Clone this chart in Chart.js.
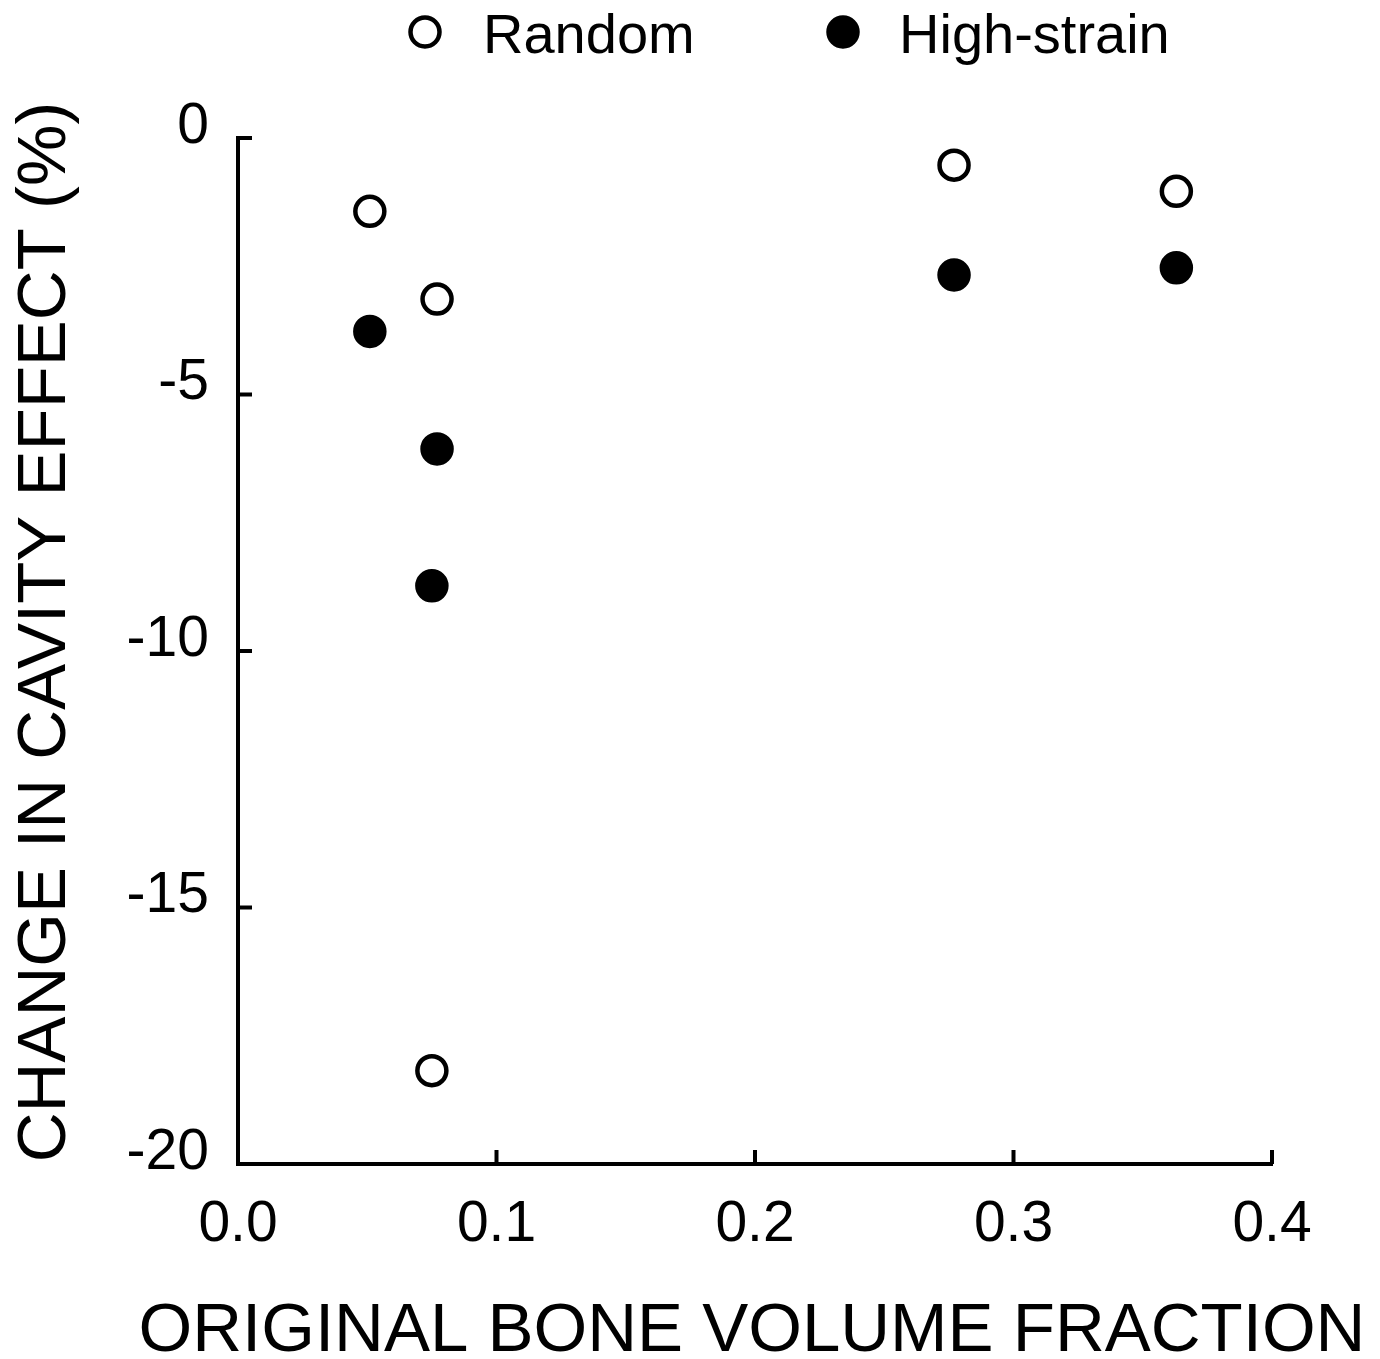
<!DOCTYPE html>
<html>
<head>
<meta charset="utf-8">
<script src="https://cdn.jsdelivr.net/npm/chart.js@4/dist/chart.umd.min.js"></script>
<style>
  html, body { margin: 0; padding: 0; background: #fff; }
  #wrap { width: 1380px; height: 1359px; }
</style>
</head>
<body>
<div id="wrap"><canvas id="cavity_chart" width="1380" height="1359"></canvas></div>
<script>
// values
const boneFraction = [0.051, 0.077, 0.075, 0.277, 0.363];
const randomChange = [-1.43, -3.14, -18.18, -0.53, -1.04];
const highStrainChange = [-3.77, -6.06, -8.73, -2.67, -2.53];
const seriesNames = ['Random', 'High-strain'];
const xTicks = [0, 0.1, 0.2, 0.3, 0.4];
const yTicks = [0, -5, -10, -15, -20];
const xTitle = 'ORIGINAL BONE VOLUME FRACTION';
const yTitle = 'CHANGE IN CAVITY EFFECT (%)';

const FONT = '"Liberation Sans", Arial, Helvetica, sans-serif';

function toPoints(xs, ys) {
  return xs.map((x, i) => ({ x: x, y: ys[i] }));
}

// inward tick marks on both axes
const innerTicks = {
  id: 'innerTicks',
  afterDatasetsDraw(chart) {
    const { ctx, scales: { x, y } } = chart;
    const len = 14;
    ctx.save();
    ctx.strokeStyle = '#000';
    ctx.lineWidth = 4;
    ctx.beginPath();
    xTicks.forEach(v => {
      const px = x.getPixelForValue(v);
      ctx.moveTo(px, y.bottom);
      ctx.lineTo(px, y.bottom - len);
    });
    yTicks.forEach(v => {
      const py = y.getPixelForValue(v);
      ctx.moveTo(x.left, py);
      ctx.lineTo(x.left + len, py);
    });
    ctx.stroke();
    ctx.restore();
  }
};

// legend row at the top and the two axis titles
const extras = {
  id: 'extras',
  afterDraw(chart) {
    const { ctx } = chart;
    ctx.save();
    // legend
    const marks = [{ cx: 425, tx: 483 }, { cx: 843, tx: 899 }];
    chart.data.datasets.forEach((ds, i) => {
      ctx.beginPath();
      ctx.arc(marks[i].cx, 32, ds.pointRadius, 0, Math.PI * 2);
      ctx.fillStyle = ds.backgroundColor;
      ctx.fill();
      ctx.lineWidth = ds.borderWidth;
      ctx.strokeStyle = ds.borderColor;
      ctx.stroke();
      ctx.fillStyle = '#000';
      ctx.font = '56px ' + FONT;
      ctx.textAlign = 'left';
      ctx.textBaseline = 'alphabetic';
      ctx.fillText(ds.label, marks[i].tx, 53);
    });
    ctx.fillStyle = '#000';
    ctx.font = '69px ' + FONT;
    ctx.textAlign = 'center';
    ctx.textBaseline = 'alphabetic';
    // x title
    ctx.fillText(xTitle, 752, 1351);
    // y title
    ctx.translate(65, 632);
    ctx.rotate(-Math.PI / 2);
    ctx.fillText(yTitle, 0, 0);
    ctx.restore();
  }
};

new Chart(document.getElementById('cavity_chart').getContext('2d'), {
  type: 'scatter',
  data: {
    datasets: [
      {
        label: seriesNames[0],
        data: toPoints(boneFraction, randomChange),
        backgroundColor: '#fff',
        borderColor: '#000',
        borderWidth: 4.5,
        pointRadius: 14.5,
        pointHoverRadius: 14.5
      },
      {
        label: seriesNames[1],
        data: toPoints(boneFraction, highStrainChange),
        backgroundColor: '#000',
        borderColor: '#000',
        borderWidth: 4.5,
        pointRadius: 14.5,
        pointHoverRadius: 14.5
      }
    ]
  },
  options: {
    responsive: false,
    animation: false,
    devicePixelRatio: 1,
    clip: false,
    layout: { padding: { left: 0, right: 108, top: 138, bottom: 0 } },
    plugins: {
      legend: { display: false },
      tooltip: { enabled: false }
    },
    scales: {
      x: {
        type: 'linear',
        min: 0,
        max: 0.4,
        afterBuildTicks: s => { s.ticks = xTicks.map(v => ({ value: v })); },
        afterFit: s => { s.height = 195; },
        grid: { drawOnChartArea: false, drawTicks: false },
        border: { display: true, color: '#000', width: 4 },
        ticks: {
          color: '#000',
          font: { family: FONT, size: 57 },
          padding: 27,
          maxRotation: 0,
          callback: v => v.toFixed(1)
        }
      },
      y: {
        type: 'linear',
        min: -20,
        max: 0,
        afterBuildTicks: s => { s.ticks = yTicks.map(v => ({ value: v })); },
        afterFit: s => { s.width = 238; },
        grid: { drawOnChartArea: false, drawTicks: false },
        border: { display: true, color: '#000', width: 4 },
        ticks: {
          color: '#000',
          font: { family: FONT, size: 57 },
          padding: 29,
          labelOffset: -11,
          callback: v => String(v)
        }
      }
    }
  },
  plugins: [innerTicks, extras]
});
</script>
</body>
</html>
